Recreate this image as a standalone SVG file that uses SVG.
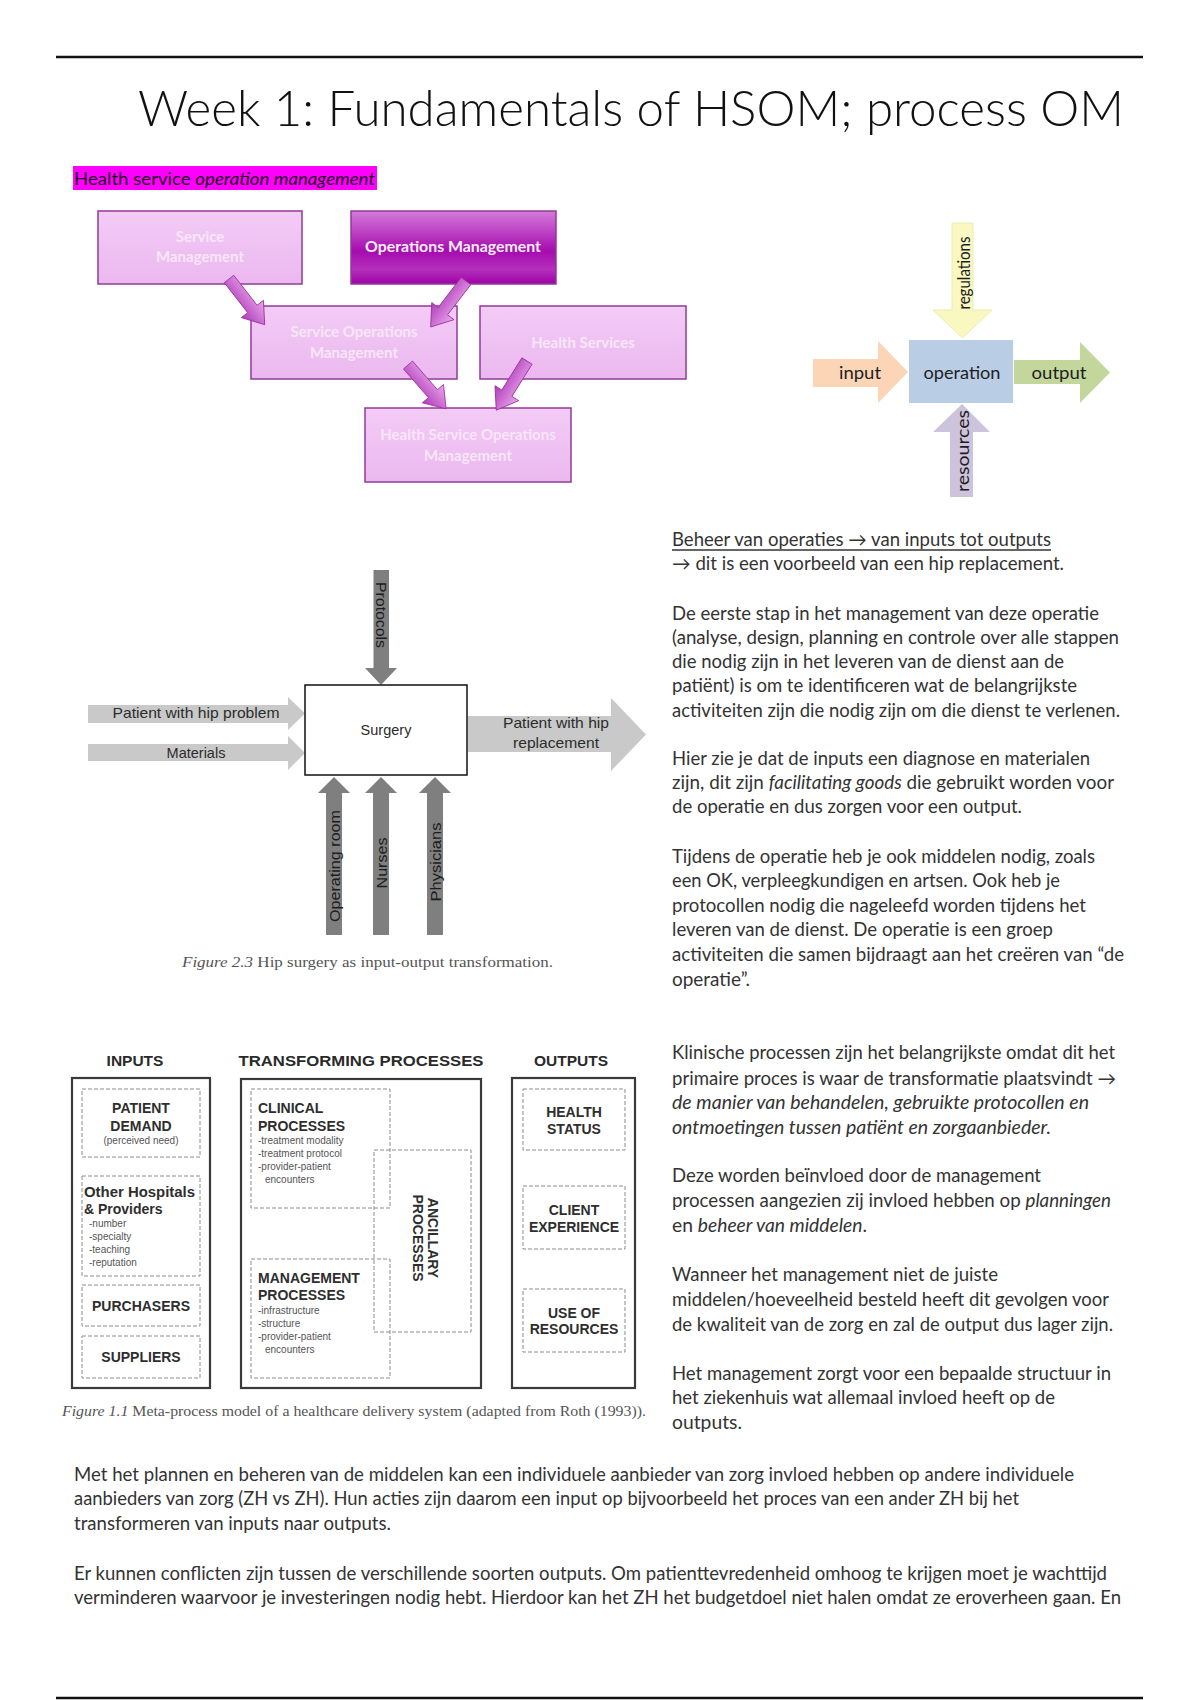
<svg xmlns="http://www.w3.org/2000/svg" xmlns:xlink="http://www.w3.org/1999/xlink" width="1200" height="1700" viewBox="0 0 1200 1700">
<style>
.body{font-family:Lato,"Open Sans","Liberation Sans",sans-serif;font-size:18.5px;fill:#333333}
.it{font-style:italic}
.pbox{fill:url(#gLight);stroke:#8f3c95;stroke-width:1.5}
.ptxt{font-family:Lato,"Open Sans","Liberation Sans",sans-serif;font-size:15px;font-weight:bold;fill:#f7e6f8;text-anchor:middle}
.io{font-family:Lato,"Open Sans","Liberation Sans",sans-serif;font-size:17px;fill:#1e1e1e;text-anchor:middle;dominant-baseline:central}
.hip{font-family:"Liberation Sans",Arial,sans-serif;font-size:14.5px;fill:#2c2c2c;text-anchor:middle}
.hipv{font-family:"Liberation Sans",Arial,sans-serif;font-size:15px;fill:#1c1c1c;text-anchor:middle;dominant-baseline:central}
.dark{fill:#7f7f7f}
.light{fill:#c9c9c9}
.cap{font-family:"Liberation Serif","Times New Roman",serif;fill:#555}
.mbox{fill:none;stroke:#3a3a3a;stroke-width:2.2}
.dbox{fill:none;stroke:#8c8c8c;stroke-width:1;stroke-dasharray:4 2}
.hd{font-family:"Liberation Sans",Arial,sans-serif;font-size:15.5px;font-weight:bold;fill:#2a2a2a;text-anchor:middle}
.b14{font-family:"Liberation Sans",Arial,sans-serif;font-size:14px;font-weight:bold;fill:#2e2e2e}
.sm{font-family:"Liberation Sans",Arial,sans-serif;font-size:10px;fill:#555}
.mid{text-anchor:middle}
</style>
<defs>
<linearGradient id="gLight" x1="0" y1="0" x2="0" y2="1">
<stop offset="0" stop-color="#f3cbf6"/>
<stop offset="1" stop-color="#ebb8ef"/>
</linearGradient>
<linearGradient id="gDark" x1="0" y1="0" x2="0" y2="1">
<stop offset="0" stop-color="#d47bda"/>
<stop offset="0.55" stop-color="#a60cae"/>
<stop offset="0.8" stop-color="#b42fbb"/>
<stop offset="1" stop-color="#9e02a6"/>
</linearGradient>
<linearGradient id="gArrow" x1="0" y1="0" x2="0" y2="1">
<stop offset="0" stop-color="#e9a6ec"/>
<stop offset="1" stop-color="#b03bb8"/>
</linearGradient>
<path id="fatArrow" d="M0,-6 L38,-6 L38,-14 L58,0 L38,14 L38,6 L0,6 Z" fill="url(#gArrow)" stroke="#9a2aa0" stroke-width="0.8"/>
</defs>
<rect width="1200" height="1700" fill="#ffffff"/>

<!-- page rules and title -->
<line x1="56" y1="57" x2="1143" y2="57" stroke="#111" stroke-width="2.5"/>
<line x1="56" y1="1698" x2="1143" y2="1698" stroke="#111" stroke-width="2.5"/>
<text x="138" y="126" font-family="Lato,'Open Sans','Liberation Sans',sans-serif" font-weight="300" font-size="50" fill="#111" textLength="986" lengthAdjust="spacingAndGlyphs">Week 1: Fundamentals of HSOM; process OM</text>

<rect x="73" y="166" width="304" height="24" fill="#f0f"/>
<text x="74" y="185" font-family="Lato,'Open Sans','Liberation Sans',sans-serif" font-size="17" fill="#1a001a" textLength="301" lengthAdjust="spacingAndGlyphs">Health service <tspan class="it">operation management</tspan></text>

<!-- HSOM purple diagram -->
<g id="hsom-diagram">
<g id="node-service-management">
<rect class="pbox" x="98" y="211" width="204" height="73"/>
<text class="ptxt" x="200" y="242">Service</text>
<text class="ptxt" x="200" y="262">Management</text>
</g>
<g id="node-operations-management">
<rect x="351" y="211" width="205" height="73" fill="url(#gDark)" stroke="#8f3c95" stroke-width="1.5"/>
<text class="ptxt" x="453" y="252" style="fill:#fbeefc" textLength="176" lengthAdjust="spacingAndGlyphs">Operations Management</text>
</g>
<g id="node-service-operations-management">
<rect class="pbox" x="251" y="306" width="206" height="73"/>
<text class="ptxt" x="354" y="337">Service Operations</text>
<text class="ptxt" x="354" y="358">Management</text>
</g>
<g id="node-health-services">
<rect class="pbox" x="480" y="306" width="206" height="73"/>
<text class="ptxt" x="583" y="348">Health Services</text>
</g>
<g id="node-hsom">
<rect class="pbox" x="365" y="408" width="206" height="74"/>
<text class="ptxt" x="468" y="440">Health Service Operations</text>
<text class="ptxt" x="468" y="461">Management</text>
</g>
<g id="connectors-hsom">
<use xlink:href="#fatArrow" transform="translate(229,279) rotate(52)"/>
<use xlink:href="#fatArrow" transform="translate(466,281) rotate(127.5)"/>
<use xlink:href="#fatArrow" transform="translate(408,365) rotate(49)"/>
<use xlink:href="#fatArrow" transform="translate(527,361) rotate(122)"/>
</g>
</g>

<!-- input / operation / output diagram -->
<g id="io-diagram">
<g id="connectors-io">
<path d="M952,223 H973 V310 H992 L962.5,338 L933,310 H952 Z" fill="#f8f8c0" stroke="#e8e8a8" stroke-width="0.8"/>
<path d="M813,359 H878 V341 L908,372 L878,403 V387 H813 Z" fill="#fbd5b6"/>
<path d="M1014,360 H1080 V342 L1110,372.5 L1080,403 V384 H1014 Z" fill="#c3d69b"/>
<path d="M962,404 L990,432 H973 V497 H950 V432 H933 Z" fill="#cdc3dc"/>
</g>
<g id="node-operation">
<rect x="909" y="340" width="104" height="63" fill="#b9cde5"/>
<text class="io" x="962" y="372" textLength="77" lengthAdjust="spacingAndGlyphs">operation</text>
</g>
<g id="label-input"><text class="io" x="860" y="372" textLength="42" lengthAdjust="spacingAndGlyphs">input</text></g>
<g id="label-output"><text class="io" x="1059" y="372" textLength="55" lengthAdjust="spacingAndGlyphs">output</text></g>
<g id="label-regulations"><text class="io" transform="translate(963,273) rotate(-90)" textLength="73" lengthAdjust="spacingAndGlyphs">regulations</text></g>
<g id="label-resources"><text class="io" transform="translate(962,451) rotate(-90)" textLength="82" lengthAdjust="spacingAndGlyphs">resources</text></g>
</g>

<!-- hip surgery diagram -->
<g id="hip-diagram">
<g id="connectors-hip">
<path class="dark" d="M373.5,570 H389 V668 H397 L381,685 L365,668 H373.5 Z"/>
<path class="light" d="M88,705 H288 V697 L305,713.5 L288,730 V723 H88 Z"/>
<path class="light" d="M88,744 H288 V736 L305,753 L288,770 V761 H88 Z"/>
<path class="light" d="M468,716 H611 V698 L646,734.5 L611,771 V752 H468 Z"/>
<path class="dark" d="M334,777 L350,793 H342 V935 H326 V793 H318 Z"/>
<path class="dark" d="M381,777 L397,793 H389 V935 H373 V793 H365 Z"/>
<path class="dark" d="M435,777 L451,793 H443 V935 H427 V793 H419 Z"/>
</g>
<g id="node-surgery">
<rect x="305" y="685" width="162" height="90" fill="#fff" stroke="#111" stroke-width="1.5"/>
<text class="hip" x="386" y="735">Surgery</text>
</g>
<text class="hip" x="196" y="718" textLength="167" lengthAdjust="spacingAndGlyphs">Patient with hip problem</text>
<text class="hip" x="196" y="758">Materials</text>
<text class="hip" x="556" y="728" textLength="106" lengthAdjust="spacingAndGlyphs">Patient with hip</text>
<text class="hip" x="556" y="748" textLength="86" lengthAdjust="spacingAndGlyphs">replacement</text>
<text class="hipv" transform="translate(381,615) rotate(90)" textLength="66" lengthAdjust="spacingAndGlyphs">Protocols</text>
<text class="hipv" transform="translate(334,866) rotate(-90)" textLength="112" lengthAdjust="spacingAndGlyphs">Operating room</text>
<text class="hipv" transform="translate(381,863) rotate(-90)" textLength="51" lengthAdjust="spacingAndGlyphs">Nurses</text>
<text class="hipv" transform="translate(435,862) rotate(-90)" textLength="79" lengthAdjust="spacingAndGlyphs">Physicians</text>
<text class="cap" x="182" y="967" font-size="15" textLength="371" lengthAdjust="spacingAndGlyphs"><tspan font-style="italic">Figure 2.3</tspan>  Hip surgery as input-output transformation.</text>
</g>

<!-- meta-process model -->
<g id="meta-diagram">
<text class="hd" x="135" y="1066">INPUTS</text>
<text class="hd" x="361" y="1066" textLength="245" lengthAdjust="spacingAndGlyphs">TRANSFORMING PROCESSES</text>
<text class="hd" x="571" y="1066">OUTPUTS</text>
<g id="node-inputs">
<rect class="mbox" x="72" y="1078" width="138" height="310"/>
<g id="node-patient-demand">
<rect class="dbox" x="82" y="1089" width="118" height="68"/>
<text class="b14 mid" x="141" y="1113">PATIENT</text>
<text class="b14 mid" x="141" y="1131">DEMAND</text>
<text class="sm mid" x="141" y="1144">(perceived need)</text>
</g>
<g id="node-other-hospitals">
<rect class="dbox" x="82" y="1176" width="118" height="100"/>
<text class="b14" x="84" y="1197" textLength="111" lengthAdjust="spacingAndGlyphs">Other Hospitals</text>
<text class="b14" x="84" y="1214">&amp; Providers</text>
<text class="sm" x="89" y="1227">-number</text>
<text class="sm" x="89" y="1240">-specialty</text>
<text class="sm" x="89" y="1253">-teaching</text>
<text class="sm" x="89" y="1266">-reputation</text>
</g>
<g id="node-purchasers">
<rect class="dbox" x="82" y="1285" width="118" height="41"/>
<text class="b14 mid" x="141" y="1311">PURCHASERS</text>
</g>
<g id="node-suppliers">
<rect class="dbox" x="82" y="1336" width="118" height="42"/>
<text class="b14 mid" x="141" y="1362">SUPPLIERS</text>
</g>
</g>
<g id="node-transforming">
<rect class="mbox" x="241" y="1079" width="240" height="309"/>
<g id="node-ancillary">
<rect class="dbox" x="374" y="1150" width="97" height="182"/>
<text class="b14 mid" transform="translate(433,1238) rotate(90)" dominant-baseline="central">ANCILLARY</text>
<text class="b14 mid" transform="translate(418,1238) rotate(90)" dominant-baseline="central">PROCESSES</text>
</g>
<g id="node-clinical">
<rect class="dbox" x="251" y="1089" width="139" height="119"/>
<text class="b14" x="258" y="1113">CLINICAL</text>
<text class="b14" x="258" y="1131">PROCESSES</text>
<text class="sm" x="258" y="1144">-treatment modality</text>
<text class="sm" x="258" y="1157">-treatment protocol</text>
<text class="sm" x="258" y="1170">-provider-patient</text>
<text class="sm" x="265" y="1183">encounters</text>
</g>
<g id="node-management">
<rect class="dbox" x="251" y="1259" width="139" height="119"/>
<text class="b14" x="258" y="1283">MANAGEMENT</text>
<text class="b14" x="258" y="1300">PROCESSES</text>
<text class="sm" x="258" y="1314">-infrastructure</text>
<text class="sm" x="258" y="1327">-structure</text>
<text class="sm" x="258" y="1340">-provider-patient</text>
<text class="sm" x="265" y="1353">encounters</text>
</g>
</g>
<g id="node-outputs">
<rect class="mbox" x="512" y="1078" width="123" height="310"/>
<g id="node-health-status">
<rect class="dbox" x="523" y="1089" width="102" height="61"/>
<text class="b14 mid" x="574" y="1117">HEALTH</text>
<text class="b14 mid" x="574" y="1134">STATUS</text>
</g>
<g id="node-client-experience">
<rect class="dbox" x="523" y="1186" width="102" height="63"/>
<text class="b14 mid" x="574" y="1215">CLIENT</text>
<text class="b14 mid" x="574" y="1232">EXPERIENCE</text>
</g>
<g id="node-use-of-resources">
<rect class="dbox" x="523" y="1289" width="102" height="63"/>
<text class="b14 mid" x="574" y="1318">USE OF</text>
<text class="b14 mid" x="574" y="1334">RESOURCES</text>
</g>
</g>
<text class="cap" x="62" y="1416" font-size="14" textLength="584" lengthAdjust="spacingAndGlyphs"><tspan font-style="italic">Figure 1.1</tspan>  Meta-process model of a healthcare delivery system (adapted from Roth (1993)).</text>
</g>

<!-- right column text -->
<g id="text-right-1" class="body">
<text x="672" y="546" textLength="379" lengthAdjust="spacingAndGlyphs">Beheer van operaties → van inputs tot outputs</text>
<line x1="672" y1="550" x2="1051" y2="550" stroke="#333" stroke-width="1.3"/>
<text x="672" y="570" textLength="392" lengthAdjust="spacingAndGlyphs">→ dit is een voorbeeld van een hip replacement.</text>
<text x="672" y="620" textLength="427" lengthAdjust="spacingAndGlyphs">De eerste stap in het management van deze operatie</text>
<text x="672" y="644" textLength="447" lengthAdjust="spacingAndGlyphs">(analyse, design, planning en controle over alle stappen</text>
<text x="672" y="668" textLength="392" lengthAdjust="spacingAndGlyphs">die nodig zijn in het leveren van de dienst aan de</text>
<text x="672" y="692" textLength="405" lengthAdjust="spacingAndGlyphs">patiënt) is om te identificeren wat de belangrijkste</text>
<text x="672" y="717" textLength="448" lengthAdjust="spacingAndGlyphs">activiteiten zijn die nodig zijn om die dienst te verlenen.</text>
<text x="672" y="765" textLength="418" lengthAdjust="spacingAndGlyphs">Hier zie je dat de inputs een diagnose en materialen</text>
<text x="672" y="789" textLength="442" lengthAdjust="spacingAndGlyphs">zijn, dit zijn <tspan class="it">facilitating goods</tspan> die gebruikt worden voor</text>
<text x="672" y="813" textLength="350" lengthAdjust="spacingAndGlyphs">de operatie en dus zorgen voor een output.</text>
<text x="672" y="863" textLength="423" lengthAdjust="spacingAndGlyphs">Tijdens de operatie heb je ook middelen nodig, zoals</text>
<text x="672" y="887" textLength="388" lengthAdjust="spacingAndGlyphs">een OK, verpleegkundigen en artsen. Ook heb je</text>
<text x="672" y="912" textLength="414" lengthAdjust="spacingAndGlyphs">protocollen nodig die nageleefd worden tijdens het</text>
<text x="672" y="936" textLength="381" lengthAdjust="spacingAndGlyphs">leveren van de dienst. De operatie is een groep</text>
<text x="672" y="961" textLength="452" lengthAdjust="spacingAndGlyphs">activiteiten die samen bijdraagt aan het creëren van “de</text>
<text x="672" y="986" textLength="78" lengthAdjust="spacingAndGlyphs">operatie”.</text>
</g>

<g id="text-right-2" class="body">
<text x="672" y="1059" textLength="443" lengthAdjust="spacingAndGlyphs">Klinische processen zijn het belangrijkste omdat dit het</text>
<text x="672" y="1085" textLength="444" lengthAdjust="spacingAndGlyphs">primaire proces is waar de transformatie plaatsvindt →</text>
<text class="it" x="672" y="1109" textLength="417" lengthAdjust="spacingAndGlyphs">de manier van behandelen, gebruikte protocollen en</text>
<text class="it" x="672" y="1134" textLength="379" lengthAdjust="spacingAndGlyphs">ontmoetingen tussen patiënt en zorgaanbieder.</text>
<text x="672" y="1182" textLength="369" lengthAdjust="spacingAndGlyphs">Deze worden beïnvloed door de management</text>
<text x="672" y="1207" textLength="439" lengthAdjust="spacingAndGlyphs">processen aangezien zij invloed hebben op <tspan class="it">planningen</tspan></text>
<text x="672" y="1232" textLength="195" lengthAdjust="spacingAndGlyphs">en <tspan class="it">beheer van middelen</tspan>.</text>
<text x="672" y="1281" textLength="326" lengthAdjust="spacingAndGlyphs">Wanneer het management niet de juiste</text>
<text x="672" y="1306" textLength="437" lengthAdjust="spacingAndGlyphs">middelen/hoeveelheid besteld heeft dit gevolgen voor</text>
<text x="672" y="1331" textLength="441" lengthAdjust="spacingAndGlyphs">de kwaliteit van de zorg en zal de output dus lager zijn.</text>
<text x="672" y="1380" textLength="439" lengthAdjust="spacingAndGlyphs">Het management zorgt voor een bepaalde structuur in</text>
<text x="672" y="1404" textLength="383" lengthAdjust="spacingAndGlyphs">het ziekenhuis wat allemaal invloed heeft op de</text>
<text x="672" y="1429" textLength="70" lengthAdjust="spacingAndGlyphs">outputs.</text>
</g>

<g id="text-bottom" class="body">
<text x="74" y="1481" textLength="1000" lengthAdjust="spacingAndGlyphs">Met het plannen en beheren van de middelen kan een individuele aanbieder van zorg invloed hebben op andere individuele</text>
<text x="74" y="1505" textLength="945" lengthAdjust="spacingAndGlyphs">aanbieders van zorg (ZH vs ZH). Hun acties zijn daarom een input op bijvoorbeeld het proces van een ander ZH bij het</text>
<text x="74" y="1530" textLength="317" lengthAdjust="spacingAndGlyphs">transformeren van inputs naar outputs.</text>
<text x="74" y="1580" textLength="1033" lengthAdjust="spacingAndGlyphs">Er kunnen conflicten zijn tussen de verschillende soorten outputs. Om patienttevredenheid omhoog te krijgen moet je wachttijd</text>
<text x="74" y="1604" textLength="1047" lengthAdjust="spacingAndGlyphs">verminderen waarvoor je investeringen nodig hebt. Hierdoor kan het ZH het budgetdoel niet halen omdat ze eroverheen gaan. En</text>
</g>
</svg>
